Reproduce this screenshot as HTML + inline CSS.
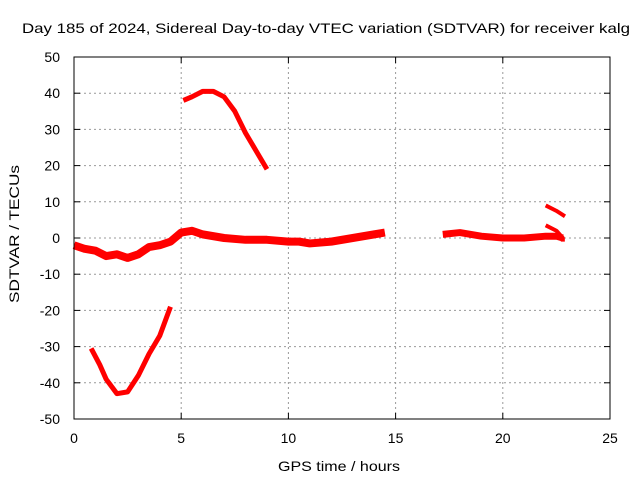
<!DOCTYPE html>
<html><head><meta charset="utf-8"><style>
body{margin:0;background:#fff}
svg text{font-family:"Liberation Sans",sans-serif;font-size:14px;fill:#000}
</style></head><body>
<svg id="chart" width="640" height="480">
<text x="22" y="33" textLength="608" lengthAdjust="spacingAndGlyphs" font-size="15">Day 185 of 2024, Sidereal Day-to-day VTEC variation (SDTVAR) for receiver kalg</text>
<text x="278" y="471" textLength="122" lengthAdjust="spacingAndGlyphs" font-size="15">GPS time / hours</text>
<text transform="translate(19,303) rotate(-90)" textLength="138" lengthAdjust="spacingAndGlyphs" font-size="15">SDTVAR / TECUs</text>
<g id="grid"></g><g id="ticks"></g><g id="series"></g>
<rect x="74" y="57" width="536" height="362" fill="none" stroke="#000"/>
</svg>
<script>
const xTicks=[0,5,10,15,20,25];
const yTicks=[-50,-40,-30,-20,-10,0,10,20,30,40,50];
const segMain=[[0,-2],[0.5,-3],[1,-3.5],[1.5,-5],[2,-4.5],[2.5,-5.5],[3,-4.5],[3.5,-2.5],[4,-2],[4.5,-1],[5,1.5],[5.5,2],[6,1],[7,0],[8,-0.5],[9,-0.5],[10,-1],[10.5,-1],[11,-1.5],[12,-1],[13,0],[14,1],[14.5,1.5]];
const segLate=[[17.2,1],[18,1.5],[19,0.5],[20,0],[21,0],[22,0.5],[22.5,0.5],[22.8,0]];
const segDrop=[[22,3.5],[22.5,2],[22.8,0],[22.8,-1]];
const segHigh=[[22,9],[22.5,7.5],[22.9,6]];
const segPeak=[[5.1,38],[5.5,39],[6,40.5],[6.5,40.5],[7,39],[7.5,35],[8,29],[8.5,24],[9,19]];
const segTrough=[[0.8,-30.5],[1.2,-35],[1.5,-39],[2,-43],[2.5,-42.5],[3,-38],[3.5,-32],[4,-27],[4.5,-19]];
const segments=[segMain,segLate,segDrop,segHigh,segPeak,segTrough];
const segNames=['series-main','series-late','series-drop','series-high','series-peak','series-trough'];
const segWidths=[8,7,4,4,5,5];
const X=v=>74+v*536/25, Y=v=>238-v*362/100;
const NS='http://www.w3.org/2000/svg';
const g=document.getElementById('grid'),t=document.getElementById('ticks'),s=document.getElementById('series');
function mk(tag,a,p){const e=document.createElementNS(NS,tag);for(const k in a)e.setAttribute(k,a[k]);p.appendChild(e);return e;}
xTicks.forEach(v=>{
 if(v>0&&v<25){const l=mk('line',{x1:X(v),x2:X(v),y1:57,y2:419,stroke:'#999','stroke-dasharray':'2,3'},g);
 
 }
 mk('line',{x1:X(v),x2:X(v),y1:419,y2:413,stroke:'#000'},t);mk('line',{x1:X(v),x2:X(v),y1:57,y2:63,stroke:'#000'},t);
 const tx=mk('text',{x:X(v),y:443,'text-anchor':'middle'},t);tx.textContent=v;
 
 
});
yTicks.forEach(v=>{
 if(v>-50&&v<50){const l=mk('line',{x1:74,x2:610,y1:Y(v),y2:Y(v),stroke:'#999','stroke-dasharray':'2,3'},g);
 
 }
 mk('line',{x1:74,x2:80,y1:Y(v),y2:Y(v),stroke:'#000'},t);mk('line',{x1:610,x2:604,y1:Y(v),y2:Y(v),stroke:'#000'},t);
 const tx=mk('text',{x:60,y:Y(v)+5,'text-anchor':'end'},t);tx.textContent=v;
 
 
});
segments.forEach((seg,i)=>{
 const p=mk('polyline',{points:seg.map(d=>X(d[0])+','+Y(d[1])).join(' '),fill:'none',stroke:'#f00','stroke-width':segWidths[i],'stroke-linejoin':'round'},s);
 
 
});
</script>
</body></html>
